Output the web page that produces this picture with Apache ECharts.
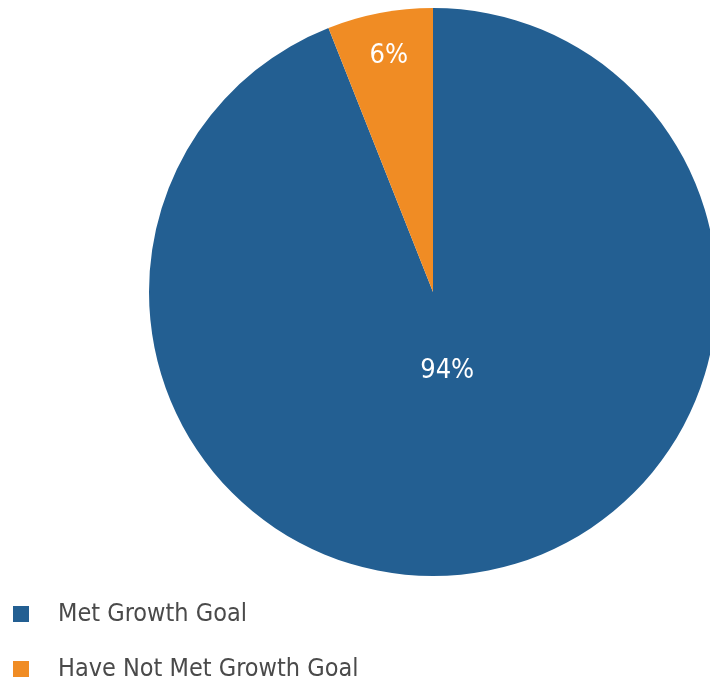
<!DOCTYPE html>
<html><head><meta charset="utf-8">
<script src="https://cdn.jsdelivr.net/npm/echarts@6/dist/echarts.min.js"></script>
<style>html,body{margin:0;padding:0;background:#fff}#c{width:710px;height:685px}</style>
</head><body><div id="c"></div>
<script>
const categories = ["Met Growth Goal", "Have Not Met Growth Goal"];
const values = [94, 6];
const colors = ["#235F92", "#F08C24"];
const labelOffsets = [[-13, -63], [-17, -94]];
const FONT = "'Liberation Sans Narrow','DejaVu Sans Condensed','Roboto',sans-serif";

const chart = echarts.init(document.getElementById('c'));
chart.setOption({
  animation: false,
  color: colors,
  legend: {
    orient: 'vertical', left: 13, top: 600, height: 85, padding: 0,
    itemWidth: 16, itemHeight: 16, itemGap: 27, icon: 'rect',
    textStyle: { fontFamily: FONT, fontSize: 25, lineHeight: 28, color: '#4a4a4a', padding: [0, 0, 0, 24] },
    data: categories
  },
  series: [{
    type: 'pie', center: [433, 292], radius: 284, startAngle: 90, clockwise: true,
    avoidLabelOverlap: false,
    label: { show: true, position: 'inside', formatter: '{c}%', color: '#fff', fontFamily: FONT, fontSize: 27 },
    labelLine: { show: false },
    itemStyle: { borderWidth: 0 },
    data: categories.map((n, i) => ({ name: n, value: values[i], label: { offset: labelOffsets[i] } }))
  }]
});
</script></body></html>
